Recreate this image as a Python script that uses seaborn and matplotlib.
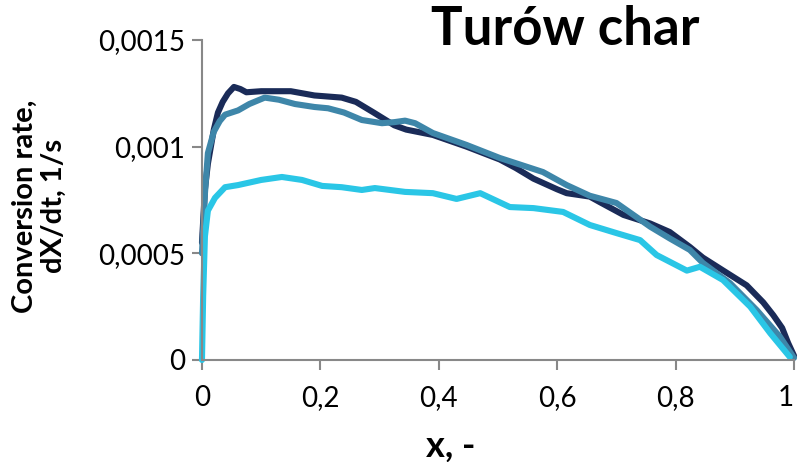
import matplotlib
matplotlib.use("Agg")
import matplotlib.pyplot as plt
import seaborn as sns

# --- data ---
x_dark = [0.0, 0.005, 0.01, 0.02, 0.027, 0.035, 0.044, 0.054, 0.065, 0.075, 0.1, 0.15,
          0.19, 0.236, 0.26, 0.29, 0.325, 0.345, 0.39, 0.447, 0.503, 0.53, 0.56, 0.6,
          0.616, 0.655, 0.672, 0.712, 0.757, 0.79, 0.824, 0.846, 0.88, 0.92, 0.948,
          0.965, 0.98, 0.99, 1.0]
y_dark = [0.00055, 0.0008, 0.00092, 0.00108, 0.00116, 0.00121, 0.00125, 0.00128, 0.00127,
          0.001255, 0.00126, 0.00126, 0.00124, 0.00123, 0.00121, 0.00116, 0.0011, 0.00108,
          0.001055, 0.001, 0.00094, 0.0009, 0.00085, 0.0008, 0.000782, 0.000766, 0.00074,
          0.00068, 0.00064, 0.0006, 0.00053, 0.00048, 0.00042, 0.00035, 0.00027, 0.00021,
          0.00015, 0.00008, 0.00002]

x_mid = [0.0, 0.005, 0.01, 0.02, 0.03, 0.039, 0.061, 0.08, 0.106, 0.13, 0.157, 0.19, 0.213,
         0.24, 0.27, 0.304, 0.325, 0.343, 0.36, 0.39, 0.447, 0.503, 0.576, 0.616, 0.655,
         0.7, 0.757, 0.79, 0.824, 0.846, 0.892, 0.937, 0.976, 1.0]
y_mid = [0.0005, 0.00078, 0.00097, 0.00107, 0.00112, 0.00115, 0.00117, 0.0012, 0.00123,
         0.00122, 0.0012, 0.001186, 0.00118, 0.00116, 0.001125, 0.00111, 0.001115, 0.001122,
         0.00111, 0.001064, 0.001008, 0.000947, 0.000881, 0.00082, 0.00077, 0.000736,
         0.000625, 0.00057, 0.000516, 0.000455, 0.00036, 0.000234, 0.00011, 0.00001]

x_light = [0.0, 0.002, 0.005, 0.01, 0.022, 0.039, 0.061, 0.1, 0.135, 0.169, 0.203, 0.236,
           0.27, 0.292, 0.343, 0.39, 0.43, 0.47, 0.52, 0.56, 0.61, 0.655, 0.7, 0.74, 0.768,
           0.819, 0.841, 0.88, 0.926, 0.96, 0.993]
y_light = [0.0, 0.0003, 0.00058, 0.0007, 0.00076, 0.00081, 0.00082, 0.000844, 0.000858,
           0.000844, 0.000816, 0.00081, 0.000797, 0.000806, 0.000788, 0.000782, 0.000755,
           0.000782, 0.000717, 0.000712, 0.000694, 0.000633, 0.000595, 0.000562, 0.000492,
           0.000419, 0.000437, 0.000375, 0.00025, 0.000125, 0.000014]

x_ticks = [0, 0.2, 0.4, 0.6, 0.8, 1]
x_labels = ["0", "0,2", "0,4", "0,6", "0,8", "1"]
y_ticks = [0, 0.0005, 0.001, 0.0015]
y_labels = ["0", "0,0005", "0,001", "0,0015"]

sns.set_style("white")
plt.rcParams["font.family"] = ["Lato", "DejaVu Sans"]

fig = plt.figure(figsize=(7.98, 4.62), dpi=100)
ax = fig.add_axes([0.2531, 0.2208, 0.7419, 0.6926])

line_kw = dict(linewidth=4.4, ax=ax, estimator=None, sort=False,
               solid_capstyle="round", solid_joinstyle="round")
sns.lineplot(x=x_dark, y=y_dark, color="#1a2b58", **line_kw)
sns.lineplot(x=x_mid, y=y_mid, color="#3e86a9", **line_kw)
sns.lineplot(x=x_light, y=y_light, color="#2ac6e6", **line_kw)

ax.set_xlim(0, 1)
ax.set_ylim(0, 0.0015)
ax.set_xticks(x_ticks)
ax.set_xticklabels(x_labels, fontsize=20, color="black")
ax.set_yticks(y_ticks)
ax.set_yticklabels(y_labels, fontsize=20, color="black")
ax.tick_params(axis="both", direction="out", length=7, width=1.5, color="#888888",
               bottom=True, left=True)
ax.tick_params(axis="y", pad=5)
ax.tick_params(axis="x", pad=11)
# keep the "1" inside the figure
ax.get_xticklabels()[-1].set_horizontalalignment("right")

sns.despine(ax=ax)
for side in ["left", "bottom"]:
    ax.spines[side].set_color("#888888")
    ax.spines[side].set_linewidth(1.5)

for line in ax.get_lines():
    line.set_clip_on(False)

ax.set_xlabel("")
ax.set_ylabel("")
fig.text(0.565, 0.012, "x, -", fontsize=26, fontweight="bold", ha="center",
         va="baseline", color="black")
fig.text(0.049, 0.554, "Conversion rate,\ndX/dt, 1/s", rotation=90, fontsize=21,
         fontweight="bold", ha="center", va="center", multialignment="center",
         linespacing=1.15, color="black")
fig.text(0.708, 0.9026, "Turów char", fontsize=38, fontweight="bold", ha="center",
         va="baseline", color="black")

fig.savefig("out.png", dpi=100)
